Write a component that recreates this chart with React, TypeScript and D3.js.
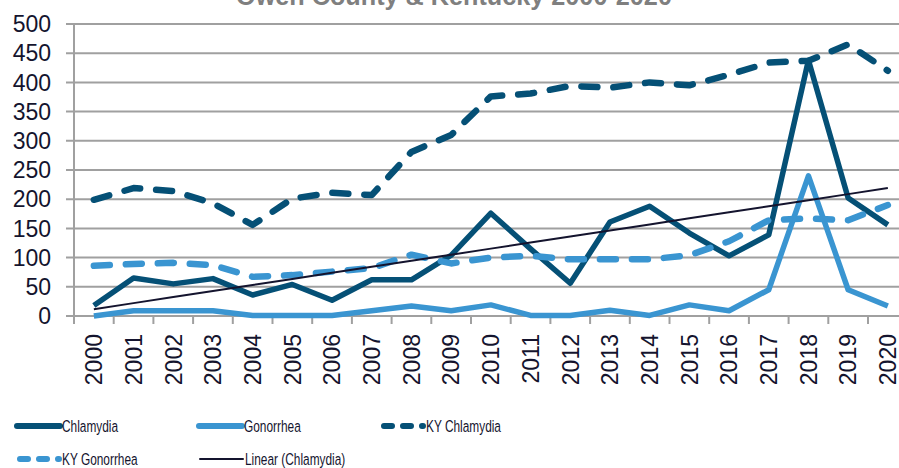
import React from "react";
import * as d3 from "d3";

const years = ["2000","2001","2002","2003","2004","2005","2006","2007","2008","2009","2010","2011","2012","2013","2014","2015","2016","2017","2018","2019","2020"];
const chlamydia = [18,65,55,64,36,54,27,62,62,104,176,115,56,161,188,142,103,139,438,202,156];
const gonorrhea = [0,9,9,9,1,1,1,9,17,9,19,1,1,10,1,19,9,45,240,45,17];
const kyChlamydia = [199,219,214,193,156,201,211,207,281,310,376,381,394,391,400,395,413,434,437,465,420];
const kyGonorrhea = [86,89,91,87,67,70,76,82,105,90,100,103,97,97,97,104,128,164,167,164,190];
const yTicks = [0,50,100,150,200,250,300,350,400,450,500];

const W = 899, H = 468;
const left = 74, top = 24, bottom = 316;
const band = 39.7;

export default function App() {
  const x = d3.scaleBand<string>().domain(years).range([left, left + band * years.length]).padding(0);
  const y = d3.scaleLinear().domain([0, 500]).range([bottom, top]);
  const cx = (i: number) => (x(years[i]) as number) + x.bandwidth() / 2;
  const line = d3.line<number>().x((_, i) => cx(i)).y((d) => y(d));

  // linear trend of Chlamydia
  const n = chlamydia.length;
  const xs = d3.range(n);
  const mx = d3.mean(xs) as number;
  const my = d3.mean(chlamydia) as number;
  const slope = d3.sum(xs.map((i) => (i - mx) * (chlamydia[i] - my))) / d3.sum(xs.map((i) => (i - mx) * (i - mx)));
  const icpt = my - slope * mx;
  const trend = xs.map((i) => icpt + slope * i);

  const dark = "#055076";
  const light = "#3A95D1";
  const grid = "#A0A0A0";
  const textColor = "#14142E";
  const font = "'Liberation Sans', Arial, sans-serif";
  const legendFont = "'Liberation Sans', sans-serif";

  const legendItems = [
    { label: "Chlamydia", x: 17, y: 426, color: dark, dash: null as string | null, w: 6 },
    { label: "Gonorrhea", x: 199, y: 426, color: light, dash: null, w: 6 },
    { label: "KY Chlamydia", x: 384, y: 426, color: dark, dash: "8 11", w: 6 },
    { label: "KY Gonorrhea", x: 20, y: 459, color: light, dash: "8 11", w: 6 },
    { label: "Linear (Chlamydia)", x: 200, y: 459, color: "#14142E", dash: null, w: 2 },
  ];

  return (
    <svg width={W} height={H} style={{ position: "fixed", left: 0, top: 0, background: "#fff" }}>
      <text x={454} y={5} textAnchor="middle" fontFamily={font} fontWeight="bold" fontSize={26} fill="#7F7F7F" transform="translate(454,0) scale(0.97,1) translate(-454,0)">
        Owen County &amp; Kentucky 2000-2020
      </text>
      {yTicks.map((t) => (
        <g key={t}>
          <line x1={66} x2={W} y1={y(t)} y2={y(t)} stroke={grid} strokeWidth={2} />
          <text x={51} y={y(t)} dy="0.36em" textAnchor="end" fontFamily={font} fontSize={23} fill={textColor}>
            {t}
          </text>
        </g>
      ))}
      <line x1={left} x2={left} y1={top} y2={bottom + 8} stroke={grid} strokeWidth={2} />
      {years.map((yr, i) => (
        <g key={yr}>
          <line x1={(x(yr) as number) + band} x2={(x(yr) as number) + band} y1={bottom} y2={bottom + 8} stroke={grid} strokeWidth={2} />
          <text
            transform={`translate(${cx(i)},${bottom + 18}) rotate(-90)`}
            textAnchor="end"
            dy="0.36em"
            fontFamily={font}
            fontSize={23}
            fill={textColor}
          >
            {yr}
          </text>
        </g>
      ))}
      <path d={line(chlamydia) as string} fill="none" stroke={dark} strokeWidth={5.5} strokeLinejoin="round" />
      <path d={line(gonorrhea) as string} fill="none" stroke={light} strokeWidth={5.5} strokeLinejoin="round" />
      <path d={line(kyChlamydia) as string} fill="none" stroke={dark} strokeWidth={6.5} strokeDasharray="16 16" strokeLinecap="round" strokeLinejoin="round" />
      <path d={line(kyGonorrhea) as string} fill="none" stroke={light} strokeWidth={6.5} strokeDasharray="16 16" strokeLinecap="round" strokeLinejoin="round" />
      <path d={line(trend) as string} fill="none" stroke="#14142E" strokeWidth={2} />

      {legendItems.map((it) => {
        const tx = it.dash ? it.x + 42 : it.x + 45;
        return (
          <g key={it.label}>
            <line
              x1={it.x}
              x2={it.dash ? it.x + 39 : it.x + 43}
              y1={it.y}
              y2={it.y}
              stroke={it.color}
              strokeWidth={it.w}
              strokeLinecap="round"
              strokeDasharray={it.dash || undefined}
            />
            <text
              transform={`translate(${tx},${it.y}) scale(0.72,1)`}
              dy="0.36em"
              fontFamily={legendFont}
              fontSize={16.5}
              fill={textColor}
            >
              {it.label}
            </text>
          </g>
        );
      })}
    </svg>
  );
}
